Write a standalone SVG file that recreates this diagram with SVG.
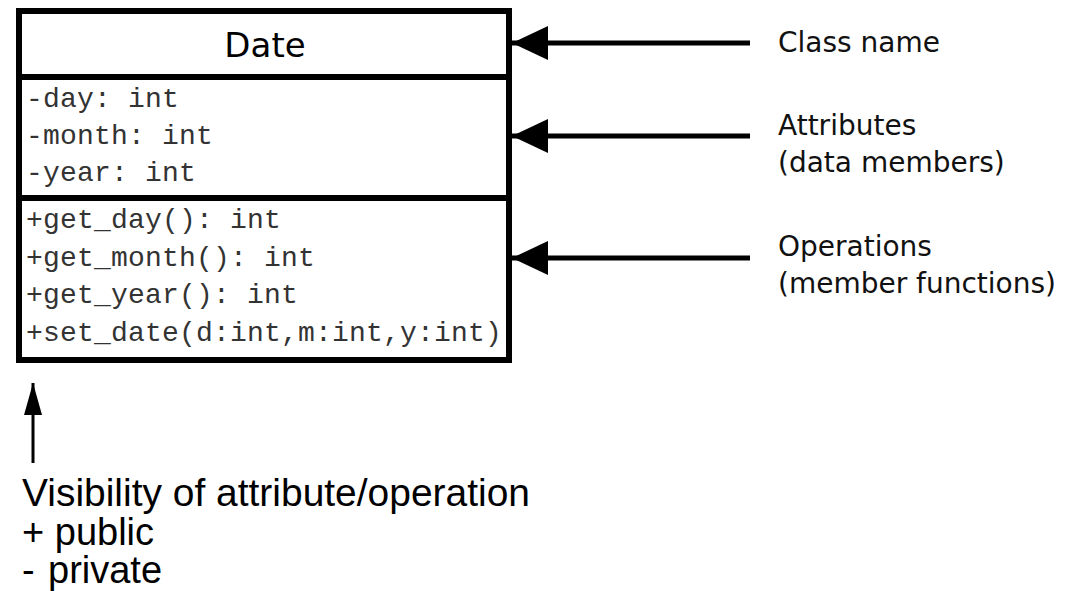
<svg xmlns="http://www.w3.org/2000/svg" width="1082" height="591" viewBox="0 0 1082 591">
<style>
.box{fill:#fff;stroke:#000;stroke-width:6}
.div{stroke:#000;stroke-width:6}
.mono{font-family:"Liberation Mono","Courier New",monospace;font-size:28px;fill:#333;letter-spacing:0.2px}
.lbl{font-family:"DejaVu Sans",Verdana,sans-serif;font-size:28px;fill:#111}
.vis{font-family:"Liberation Sans",Arial,sans-serif;font-size:38px;fill:#000}
.conn{stroke:#000;stroke-width:5;fill:none}
</style>
<defs>
<marker id="ah" markerUnits="userSpaceOnUse" markerWidth="40" markerHeight="40" refX="36" refY="17" orient="auto">
<path d="M0,0 L36,17 L0,34 Z" fill="#000"/>
</marker>
<marker id="ahs" markerUnits="userSpaceOnUse" markerWidth="34" markerHeight="20" refX="32" refY="9" orient="auto">
<path d="M0,0 L32,9 L0,18 Z" fill="#000"/>
</marker>
</defs>
<g id="date-class">
<rect class="box" x="19" y="11" width="490" height="349"/>
<line class="div" x1="19" y1="77" x2="509" y2="77"/>
<line class="div" x1="19" y1="198" x2="509" y2="198"/>
<text x="265" y="57" text-anchor="middle" font-family="DejaVu Sans, Verdana, sans-serif" font-size="34" fill="#000">Date</text>
<text class="mono" x="26" y="107">-day: int</text>
<text class="mono" x="26" y="144">-month: int</text>
<text class="mono" x="26" y="181">-year: int</text>
<text class="mono" x="26" y="228">+get_day(): int</text>
<text class="mono" x="26" y="266">+get_month(): int</text>
<text class="mono" x="26" y="303">+get_year(): int</text>
<text class="mono" x="26" y="341">+set_date(d:int,m:int,y:int)</text>
</g>
<g id="label-classname"><text class="lbl" x="778" y="52">Class name</text></g>
<g id="label-attributes"><text class="lbl" x="778" y="135">Attributes</text><text class="lbl" x="778" y="172">(data members)</text></g>
<g id="label-operations"><text class="lbl" x="778" y="256">Operations</text><text class="lbl" x="778" y="293">(member functions)</text></g>
<g id="label-visibility">
<text class="vis" x="22" y="506" textLength="508" lengthAdjust="spacingAndGlyphs">Visibility of attribute/operation</text>
<text class="vis" x="22" y="545">+ public</text>
<text class="vis" x="22" y="583">-<tspan x="48">private</tspan></text>
</g>
<g id="connectors">
<line class="conn" x1="750" y1="43" x2="512" y2="43" marker-end="url(#ah)"/>
<line class="conn" x1="750" y1="136" x2="512" y2="136" marker-end="url(#ah)"/>
<line class="conn" x1="750" y1="258" x2="512" y2="258" marker-end="url(#ah)"/>
<line x1="33" y1="463" x2="33" y2="383" stroke="#000" stroke-width="3" marker-end="url(#ahs)"/>
</g>
</svg>
